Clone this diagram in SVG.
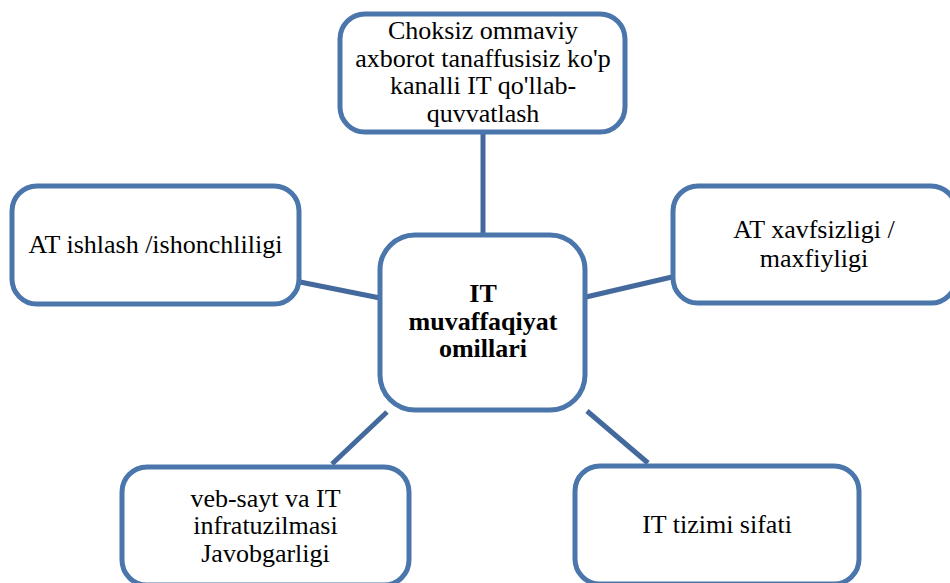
<svg xmlns="http://www.w3.org/2000/svg" width="950" height="583" viewBox="0 0 950 583">
<style>
.box{fill:#ffffff;stroke:#4a76ac;stroke-width:5}
.conn{stroke:#44699c;stroke-width:5;fill:none}
.t{font-family:'Liberation Serif','Times New Roman','DejaVu Serif',serif;font-size:26px;fill:#000;text-anchor:middle}
.b{font-weight:bold}
</style>
<rect width="950" height="583" fill="#ffffff"/>
<g id="connectors">
<line class="conn" x1="483" y1="134" x2="483" y2="234"/>
<line class="conn" x1="300" y1="282" x2="380" y2="298"/>
<line class="conn" x1="586" y1="297" x2="672" y2="277"/>
<line class="conn" x1="332" y1="464" x2="387" y2="412"/>
<line class="conn" x1="587" y1="411" x2="648" y2="463"/>
</g>
<g id="top">
<rect class="box" x="340" y="14" width="285" height="118" rx="25"/>
<text class="t" x="483" y="39">Choksiz ommaviy</text>
<text class="t" x="483" y="66.5">axborot tanaffusisiz ko'p</text>
<text class="t" x="483" y="94">kanalli IT qo'llab-</text>
<text class="t" x="483" y="121.5">quvvatlash</text>
</g>
<g id="left">
<rect class="box" x="12" y="186" width="287" height="118" rx="25"/>
<text class="t" x="155.5" y="253">AT ishlash /ishonchliligi</text>
</g>
<g id="right">
<rect class="box" x="673" y="186" width="283" height="117" rx="25"/>
<text class="t" x="814" y="238">AT xavfsizligi /</text>
<text class="t" x="814" y="267">maxfiyligi</text>
</g>
<g id="center">
<rect class="box" x="380" y="235" width="205" height="175" rx="35"/>
<text class="t b" x="483" y="302">IT</text>
<text class="t b" x="483" y="330">muvaffaqiyat</text>
<text class="t b" x="483" y="357">omillari</text>
</g>
<g id="bottom-left">
<rect class="box" x="122" y="467" width="287" height="118" rx="25"/>
<text class="t" x="265.5" y="507">veb-sayt va IT</text>
<text class="t" x="265.5" y="534">infratuzilmasi</text>
<text class="t" x="265.5" y="562">Javobgarligi</text>
</g>
<g id="bottom-right">
<rect class="box" x="575" y="466" width="284" height="118" rx="25"/>
<text class="t" x="717" y="533">IT tizimi sifati</text>
</g>
</svg>
